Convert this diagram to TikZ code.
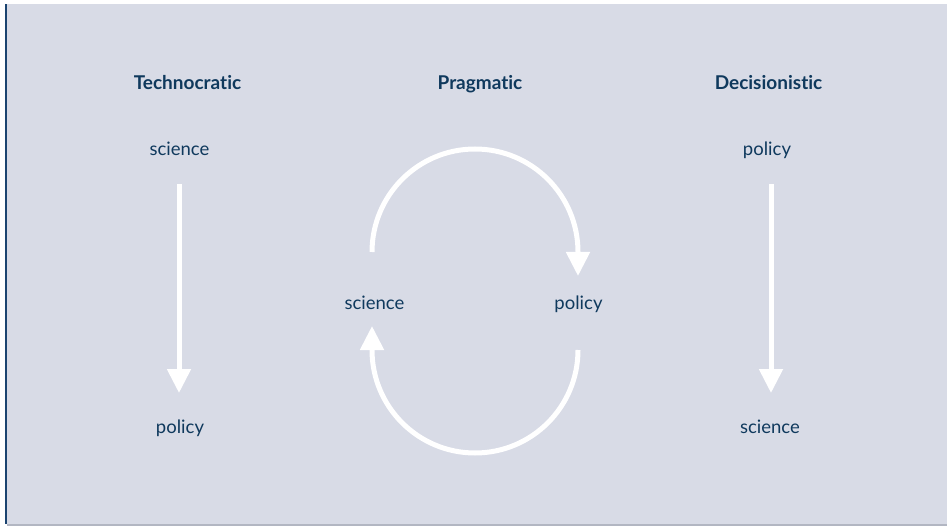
\documentclass[tikz,border=0pt]{standalone}
\usepackage{fontspec}
\setmainfont{Lato}[Ligatures={NoCommon}]
\usetikzlibrary{arrows.meta}
\definecolor{bgc}{HTML}{D8DBE6}
\definecolor{txt}{HTML}{0F395D}
\definecolor{barc}{HTML}{1B4470}
\definecolor{linec}{HTML}{B2B6C2}
\begin{document}
\begin{tikzpicture}[x=1pt,y=-1pt,
  lbl/.style={anchor=base,text=txt,font=\fontsize{18.5}{20}\selectfont,inner sep=0pt},
  ttl/.style={lbl,font=\fontsize{19}{21}\selectfont\bfseries},
  flow/.style={draw=white,line width=5pt,-{Triangle[width=23pt,length=24pt]}}]
\useasboundingbox (0,0) rectangle (947,526);
\fill[bgc] (7,4) rectangle (947,524);
\fill[barc] (5,4) rectangle (7,524);
\fill[linec] (7,524) rectangle (947,526);
% titles
\node[ttl] (t1) at (187.5,90) {Technocratic};
\node[ttl] (t2) at (480,90) {Pragmatic};
\node[ttl] (t3) at (768.5,90) {Decisionistic};
% technocratic
\node[lbl] (ts) at (179.5,156) {science};
\node[lbl] (tp) at (180,433) {policy};
\coordinate (ta) at (179,184);
\coordinate (tb) at (179,393);
\draw[flow] (ta) -- (tb);
% decisionistic
\node[lbl] (dp) at (767,156) {policy};
\node[lbl] (ds) at (770,433) {science};
\coordinate (da) at (771,184);
\coordinate (db) at (771,393);
\draw[flow] (da) -- (db);
% pragmatic
\node[lbl] (ps) at (374.5,309) {science};
\node[lbl] (pp) at (578.5,309) {policy};
\coordinate (pa) at (372,252);
\coordinate (pb) at (578,276);
\coordinate (pc) at (578,350);
\coordinate (pd) at (372,326);
\draw[flow] (pa) arc[start angle=180,end angle=360,radius=103] -- (pb);
\draw[flow] (pc) arc[start angle=0,end angle=180,radius=103] -- (pd);
\end{tikzpicture}
\end{document}
